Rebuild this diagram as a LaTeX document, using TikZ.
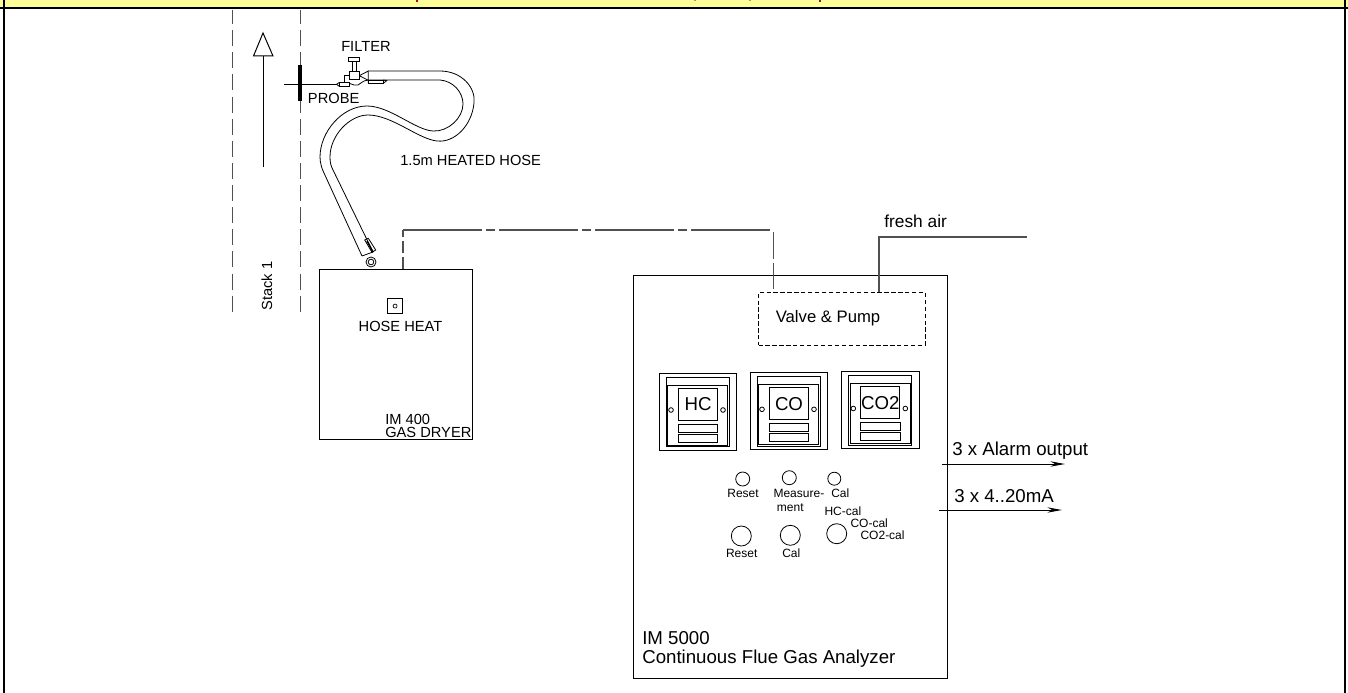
\documentclass[tikz,border=0pt]{standalone}
\usepackage{fontspec}
\setmainfont{Liberation Sans}
\usetikzlibrary{arrows.meta}
\definecolor{band}{HTML}{FFFF99}
\definecolor{gr}{HTML}{505050}
\definecolor{marks}{HTML}{A01030}
\tikzset{
 ln/.style={draw=black,line width=0.75pt},
 thn/.style={draw=black,line width=0.6pt},
 stackline/.style={draw=gr,line width=0.75pt,dash pattern=on 12pt off 4.6pt,dash phase=1.5pt},
 gasline/.style={draw=gr,line width=0.9pt},
 txt/.style={font=\fontsize{#1}{#1}\selectfont,inner sep=0pt,text=black},
 txt/.default=11pt,
 arrowln/.style={draw=black,line width=0.75pt,-{Stealth[length=11pt,width=4pt]}},
 knob/.style={circle,draw=black,line width=0.6pt,inner sep=0pt},
 dot/.style={circle,draw=black,line width=0.6pt,fill=white,inner sep=0pt,minimum size=3.5pt},
 box/.style={draw=black,line width=0.75pt,inner sep=0pt},
}
% one instrument panel: #1 = x offset, #2 = y offset, #3 = label
\newcommand{\instrument}[3]{%
 \begin{scope}[shift={(#1,#2)}]
  \draw[ln] (659.3,373.3) rectangle (736.7,450);
  \draw[ln] (666,377.3) rectangle (729.3,446.7);
  \draw[ln] (667.7,385) rectangle (727.7,445);
  \node[box,minimum width=29.5pt,minimum height=24pt,txt=14pt] at (698,404.3) {#3};
  \draw[ln] (678.3,424.3) rectangle (717.7,432.3);
  \draw[ln] (678.3,434) rectangle (717.7,442.3);
  \node[dot] at (671,410) {};
  \node[dot] at (723,410) {};
 \end{scope}}
\begin{document}
\begin{tikzpicture}[x=0.75pt,y=-0.75pt]
\useasboundingbox (0,0) rectangle (1348,692);
\fill[band] (0,0) rectangle (1348,7.5);
\foreach \mx in {417,820} \fill[marks] (\mx-1.2,0) rectangle (\mx+1.2,2.2);
\foreach \mx in {695,750} \fill[marks!50!band] (\mx-.6,0) rectangle (\mx+.6,1.5);
\draw[line width=1.5pt] (4,-3) -- (4,695) (1345,-3) -- (1345,695);
\draw[line width=1.3pt] (0,7.9) -- (1348,7.9);
% stack
\draw[stackline] (232,10) -- (232,312);
\draw[stackline] (300,10) -- (300,312);
\draw[ln] (263,167) -- (263,56);
\draw[ln] (263,33) -- (253.5,56) -- (273,56) -- cycle;
\node[txt,rotate=90] (stack) at (267,286) {Stack 1};
% probe
\draw[line width=2.9pt] (300,65) -- (300,101);
\draw[line width=1pt] (284,84.3) -- (337,84.3);
\node[txt,anchor=west] (probe) at (307.7,98.3) {PROBE};
\node[txt,anchor=west] (filter) at (341,46.7) {FILTER};
% filter
\draw[thn] (336.5,84.3) -- (339.3,82.5) (336.5,84.3) -- (339.3,86.3);
\draw[thn] (339.3,82) rectangle (349.3,86.7);
\draw[thn] (344.3,82) -- (344.3,75) -- (349.3,75);
\draw[thn,fill=white] (349.3,71.7) rectangle (359.3,79);
\draw[thn] (352.7,71.7) -- (352.7,61.7) (356,71.7) -- (356,61.7);
\draw[thn] (348.3,57.7) rectangle (359.3,61.7);
\draw[thn] (349.3,83.3) .. controls (353,84.5) and (355,86) .. (358,85) .. controls (361,84) and (362,80.5) .. (368.3,80);
\draw[thn] (359.3,75.7) -- (368.3,71) -- (368.3,83.3);
\draw[thn] (359.3,75.7) -- (368.3,80.3);
\draw[thn] (368.3,80) rectangle (383.3,83.3);
\draw[thn] (383.3,80) -- (386.7,80.7) -- (383.3,83.3);
% hose
\draw[thn] (368.3,71) -- (440,71) .. controls (462,71) and (476,88) .. (474,103)
 .. controls (472,125) and (455,143) .. (437,141) .. controls (418,139) and (392,115) .. (368,115)
 .. controls (350,115) and (330,135) .. (330,157) .. controls (330,163) and (331,166) .. (333,170) -- (373,252);
\draw[thn] (368.3,80) -- (440,80) .. controls (453,81) and (463,92) .. (463,104)
 .. controls (463,118) and (448,132) .. (433,131) .. controls (415,130) and (390,106) .. (367,106)
 .. controls (342,106) and (320,132) .. (320,157) .. controls (320,163) and (322,169) .. (324,173) -- (362,256);
\draw[thn] (362,256) -- (373,252);
\draw[thn] (364.7,240) -- (368.3,238.3) -- (375.7,250) -- (372,252.3) -- cycle;
\draw[line width=1.1pt] (367,241) -- (373,252);
\draw[thn] (371,262) circle (5);
\draw[thn] (371,262) circle (2.8);
% dryer
\node[box,anchor=north west,minimum width=115pt,minimum height=127.5pt] (dryer) at (319,268.5) {};
\node[thn,draw,anchor=north west,minimum width=11.5pt,minimum height=11.5pt,inner sep=0pt] (sw) at (387,298) {};
\node[circle,draw=black,line width=.5pt,minimum size=3pt,inner sep=0pt] (swdot) at (sw) {};
\node[txt] (hoseheat) at (400.5,326) {HOSE HEAT};
\node[txt,anchor=west] (im400) at (385,419) {IM 400};
\node[txt,anchor=west] (gasdryer) at (385,432) {GAS DRYER};
\node[txt,anchor=west] (heated) at (400,160) {1.5m HEATED HOSE};
% analyzer
\node[box,anchor=north west,minimum width=235.5pt,minimum height=302.5pt] (analyzer) at (632.7,274.7) {};
\node[anchor=north west,draw=black,line width=.75pt,dash pattern=on 3.2pt off 2pt,minimum width=125pt,minimum height=40pt,inner sep=0pt] (valve) at (758,291.5) {};
\node[txt=12.5pt] (valvetxt) at (828,318) {Valve \& Pump};
% gas line
\coordinate (g1) at (403,230);
\coordinate (g2) at (773.7,230);
\draw[gasline,dash pattern=on 9pt off 3pt] (403,268.5) -- (g1);
\draw[gasline,dash pattern=on 59.25pt off 3pt on 6.75pt off 3pt] (g1) -- (771,230);
\draw[gasline,dash pattern=on 20pt off 3pt] (773.7,232) -- (773.7,291.5);
% fresh air
\coordinate (fa1) at (879,237);
\coordinate (fa2) at (1027,237);
\draw[gasline] (879,291.5) -- (fa1) -- (fa2);
\node[txt=13pt,anchor=west] (fresh) at (884,221) {fresh air};
% panels
\instrument{0}{0}{HC}
\instrument{91}{-0.7}{CO}
\instrument{182.3}{-1.5}{CO2}
% buttons
\node[knob,minimum size=10.5pt] (b1) at (742.7,479) {};
\node[knob,minimum size=10.5pt] (b2) at (789.3,477.7) {};
\node[knob,minimum size=9.75pt] (b3) at (834.3,478.7) {};
\node[knob,minimum size=15pt] (b4) at (741.3,536) {};
\node[knob,minimum size=15pt] (b5) at (790.3,535.3) {};
\node[knob,minimum size=15pt] (b6) at (836.7,533.7) {};
\node[txt=9pt] at (743,493.7) {Reset};
\node[txt=9pt,anchor=west] at (773.3,493.7) {Measure-};
\node[txt=9pt] at (790.3,507.7) {ment};
\node[txt=9pt,anchor=west] at (831,493.7) {Cal};
\node[txt=9pt,anchor=west] at (824.3,511.7) {HC-cal};
\node[txt=9pt,anchor=west] at (850.3,523.3) {CO-cal};
\node[txt=9pt,anchor=west] at (860.3,535) {CO2-cal};
\node[txt=9pt] at (741.7,553.7) {Reset};
\node[txt=9pt] at (791.3,553.7) {Cal};
\node[txt=14pt,anchor=west] at (642,638) {IM 5000};
\node[txt=14pt,anchor=west] at (642,659) {Continuous Flue Gas Analyzer};
% outputs
\coordinate (o1a) at (942,464);
\coordinate (o1b) at (1065,464);
\coordinate (o2a) at (939,510);
\coordinate (o2b) at (1062,510);
\draw[arrowln] (o1a) -- (o1b);
\draw[arrowln] (o2a) -- (o2b);
\node[txt=14pt,anchor=west] at (952,450.5) {3 x Alarm output};
\node[txt=14pt,anchor=west] at (954,496) {3 x 4..20mA};
\end{tikzpicture}
\end{document}
